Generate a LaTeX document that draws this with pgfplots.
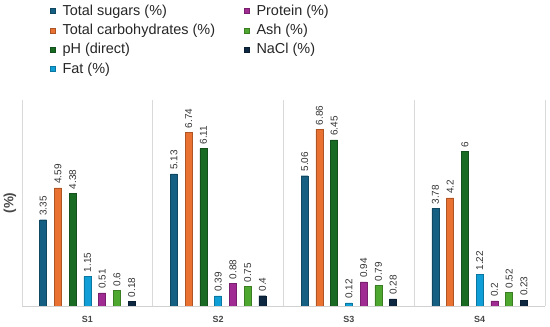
\documentclass[border=0pt]{standalone}
\usepackage{fontspec}
\setmainfont{Liberation Sans}
\usepackage{pgfplots}
\pgfplotsset{compat=1.18}
\definecolor{cSug}{HTML}{156082}
\definecolor{cCarb}{HTML}{E97132}
\definecolor{cPH}{HTML}{196B24}
\definecolor{cFat}{HTML}{0F9ED5}
\definecolor{cProt}{HTML}{A02B93}
\definecolor{cAsh}{HTML}{4EA72E}
\definecolor{cNaCl}{HTML}{0E2841}
\begin{document}
\begin{tikzpicture}
\useasboundingbox (-22bp,-21bp) rectangle (528bp,306bp);
\begin{axis}[
  at={(0,0)}, anchor=south west,
  scale only axis, width=523bp, height=206bp,
  xmin=-0.5, xmax=3.5, ymin=0, ymax=8,
  axis x line*=bottom, axis y line*=left,
  y axis line style={draw=none},
  x axis line style={draw=black!18, line width=0.7bp},
  ytick=\empty,
  xtick={0,1,2,3}, xticklabels={S1,S2,S3,S4},
  major tick length=0pt,
  extra x ticks={-0.5,0.5,1.5,2.5,3.5},
  extra x tick labels={},
  extra x tick style={grid=major, major grid style={draw=black!15, line width=0.7bp}},
  xticklabel style={font=\bfseries\fontsize{9}{10}\selectfont, text=black!72, yshift=-7bp},
  ylabel={(\%)},
  ylabel style={at={(axis description cs:-0.011,0.5)}, anchor=south, inner sep=0pt, font=\bfseries\fontsize{13.5}{15}\selectfont, text=black!72},
  ybar, bar width=7bp,
  nodes near coords,
  every node near coord/.append style={rotate=90, anchor=west, font=\fontsize{10}{12}\selectfont, text=black!80, inner xsep=4bp, inner ysep=1bp},
  /pgf/number format/assume math mode=true,
  legend columns=2,
  legend cell align=left,
  legend style={at={(axis description cs:0,1)}, anchor=north west, xshift=28bp, yshift=97bp, draw=none, fill=none, inner sep=0pt, font=\fontsize{14.5}{16}\selectfont, text=black!85, row sep=3.2bp,
    /tikz/every even column/.append style={column sep=27bp},
    /tikz/every odd column/.append style={column sep=5bp}},
  legend image code/.code={\fill[#1] (0bp,-2.5bp) rectangle (5bp,2.5bp);},
]
\addplot[fill=cSug, draw=cSug!75!black, line width=0.4bp, bar shift=-44.25bp] coordinates {(0,3.35) (1,5.13) (2,5.06) (3,3.78)};
\addlegendentry{Total sugars (\%)}
\addplot[fill=cProt, draw=cProt!75!black, line width=0.4bp, bar shift=14.75bp] coordinates {(0,0.51) (1,0.88) (2,0.94) (3,0.2)};
\addlegendentry{Protein (\%)}
\addplot[fill=cCarb, draw=cCarb!75!black, line width=0.4bp, bar shift=-29.5bp] coordinates {(0,4.59) (1,6.74) (2,6.86) (3,4.2)};
\addlegendentry{Total carbohydrates (\%)}
\addplot[fill=cAsh, draw=cAsh!75!black, line width=0.4bp, bar shift=29.5bp] coordinates {(0,0.6) (1,0.75) (2,0.79) (3,0.52)};
\addlegendentry{Ash (\%)}
\addplot[fill=cPH, draw=cPH!75!black, line width=0.4bp, bar shift=-14.75bp] coordinates {(0,4.38) (1,6.11) (2,6.45) (3,6)};
\addlegendentry{pH (direct)}
\addplot[fill=cNaCl, draw=cNaCl!75!black, line width=0.4bp, bar shift=44.25bp] coordinates {(0,0.18) (1,0.4) (2,0.28) (3,0.23)};
\addlegendentry{NaCl (\%)}
\addplot[fill=cFat, draw=cFat!75!black, line width=0.4bp, bar shift=0bp] coordinates {(0,1.15) (1,0.39) (2,0.12) (3,1.22)};
\addlegendentry{Fat (\%)}
\end{axis}
\end{tikzpicture}
\end{document}
